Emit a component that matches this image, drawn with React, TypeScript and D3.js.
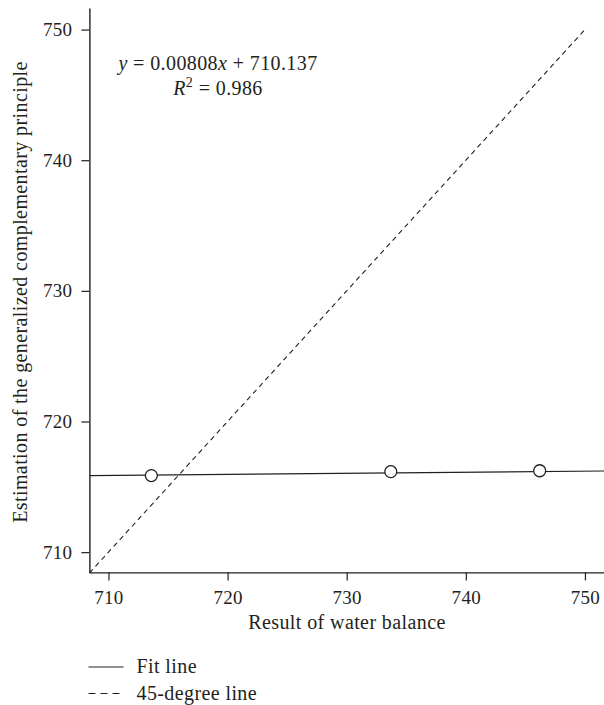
import { useEffect, useRef } from "react";
import * as d3 from "d3";

// observed points: water balance (x) vs generalized complementary principle (y)
const waterBalance = [713.6, 733.7, 746.2];
const gcpEstimate = [715.86, 716.16, 716.23];

const xTicks = [710, 720, 730, 740, 750];
const yTicks = [710, 720, 730, 740, 750];

const fitSlope = 0.00808;
const fitIntercept = 710.137;
const rSquared = 0.986;

const diagonalEnds = [708.4, 750];
const legendLabels = ["Fit line", "45-degree line"];

const FONT = "'Liberation Serif', 'Times New Roman', serif";
const INK = "#231f20";

function renderChart(element: SVGSVGElement) {
  const width = 604,
    height = 705;
  const svg = d3.select(element);
  svg.selectAll("*").remove();
  svg.attr("width", width).attr("height", height);

  const x = d3.scaleLinear().domain([708.4, 751.6]).range([89.4, 604]);
  const y = d3.scaleLinear().domain([708.45, 751.65]).range([572.4, 8]);

  // axes
  const xAxis = svg
    .append("g")
    .attr("transform", `translate(0,${y.range()[0]})`)
    .call(
      d3
        .axisBottom(x)
        .tickValues(xTicks)
        .tickFormat(d3.format("d"))
        .tickSize(8)
        .tickSizeOuter(0)
        .tickPadding(10)
    );

  const yAxis = svg
    .append("g")
    .attr("transform", `translate(${x.range()[0]},0)`)
    .call(
      d3
        .axisLeft(y)
        .tickValues(yTicks)
        .tickFormat(d3.format("d"))
        .tickSize(8)
        .tickSizeOuter(0)
        .tickPadding(9)
    );

  [xAxis, yAxis].forEach((g) => {
    g.select(".domain").attr("stroke", INK).attr("stroke-width", 1.4);
    g.selectAll(".tick line").attr("stroke", INK).attr("stroke-width", 1.2);
    g.selectAll(".tick text")
      .attr("fill", INK)
      .style("font-family", FONT)
      .style("font-size", "19px")
      .style("letter-spacing", "0.3px");
  });

  // 45-degree line
  svg
    .append("line")
    .attr("x1", x(diagonalEnds[0]))
    .attr("y1", y(diagonalEnds[0]))
    .attr("x2", x(diagonalEnds[1]))
    .attr("y2", y(diagonalEnds[1]))
    .attr("stroke", INK)
    .attr("stroke-width", 1.1)
    .attr("stroke-dasharray", "5,4");

  // fit line
  const [x0, x1] = x.domain();
  svg
    .append("line")
    .attr("x1", x(x0))
    .attr("y1", y(fitSlope * x0 + fitIntercept))
    .attr("x2", x(x1))
    .attr("y2", y(fitSlope * x1 + fitIntercept))
    .attr("stroke", INK)
    .attr("stroke-width", 1.2);

  // points
  svg
    .selectAll("circle.pt")
    .data(waterBalance)
    .join("circle")
    .attr("class", "pt")
    .attr("cx", (d) => x(d))
    .attr("cy", (_d, i) => y(gcpEstimate[i]))
    .attr("r", 6)
    .attr("fill", "white")
    .attr("stroke", INK)
    .attr("stroke-width", 1.3);

  const textStyle = (sel: d3.Selection<SVGTextElement, any, any, any>) =>
    sel
      .attr("fill", INK)
      .style("font-family", FONT)
      .style("font-size", "20px")
      .style("letter-spacing", "0.4px");

  // equation
  const eq = svg
    .append("text")
    .attr("x", 218)
    .attr("y", 70)
    .attr("text-anchor", "middle")
    .call(textStyle);
  eq.append("tspan").attr("font-style", "italic").text("y");
  eq.append("tspan").text(` = ${fitSlope}`);
  eq.append("tspan").attr("font-style", "italic").text("x");
  eq.append("tspan").text(` + ${fitIntercept}`);

  const r2 = svg
    .append("text")
    .attr("x", 218)
    .attr("y", 95)
    .attr("text-anchor", "middle")
    .call(textStyle);
  r2.append("tspan").attr("font-style", "italic").text("R");
  r2.append("tspan").attr("dy", -8).style("font-size", "14px").text("2");
  r2.append("tspan").attr("dy", 8).text(` = ${rSquared}`);

  // axis titles
  svg
    .append("text")
    .attr("x", 347)
    .attr("y", 629)
    .attr("text-anchor", "middle")
    .call(textStyle)
    .text("Result of water balance");

  svg
    .append("text")
    .attr("transform", "translate(27,292) rotate(-90)")
    .attr("text-anchor", "middle")
    .call(textStyle)
    .text("Estimation of the generalized complementary principle");

  // legend
  const legend = svg
    .selectAll("g.legend")
    .data(legendLabels)
    .join("g")
    .attr("class", "legend")
    .attr("transform", (_d, i) => `translate(88.5,${667 + i * 26.5})`);

  legend
    .append("line")
    .attr("x1", 0)
    .attr("x2", 35)
    .attr("stroke", INK)
    .attr("stroke-width", 1.2)
    .attr("stroke-dasharray", (_d, i) => (i === 1 ? "7,5" : null));

  legend
    .append("text")
    .attr("x", 48)
    .attr("dy", "0.3em")
    .call(textStyle)
    .text((d) => d);
}

export default function App() {
  const svgRef = useRef<SVGSVGElement>(null);
  useEffect(() => {
    if (svgRef.current) {
      renderChart(svgRef.current);
    }
  }, []);
  return (
    <svg
      ref={svgRef}
      style={{ position: "absolute", left: 0, top: 0, background: "white" }}
    />
  );
}
